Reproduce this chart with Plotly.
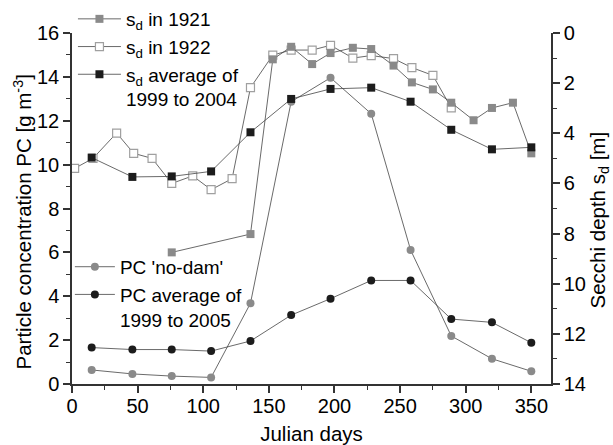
import plotly.graph_objects as go

# ---- data ----
days_pc = [15, 46, 76, 106, 136, 167, 197, 228, 258, 289, 320, 350]
pc_nodam = [0.64, 0.46, 0.36, 0.30, 3.68, 12.87, 13.96, 12.32, 6.11, 2.19, 1.15, 0.58]
pc_avg = [1.66, 1.57, 1.57, 1.50, 1.96, 3.14, 3.89, 4.72, 4.72, 2.96, 2.81, 1.88]

days_1921 = [76, 136, 153, 167, 183, 197, 214, 228, 245, 259, 275, 289, 306, 320, 336, 350]
sd_1921 = [8.75, 8.02, 1.05, 0.55, 1.24, 0.80, 0.59, 0.64, 1.30, 1.97, 2.25, 2.78, 3.48, 2.99, 2.78, 4.80]

days_1922 = [2, 16, 34, 47, 61, 76, 92, 106, 122, 136, 153, 167, 183, 197, 214, 228, 245, 259, 275, 289]
sd_1922 = [5.40, 5.00, 3.99, 4.80, 5.00, 6.00, 5.70, 6.25, 5.81, 2.18, 0.88, 0.68, 0.68, 0.49, 1.00, 0.90, 1.02, 1.38, 1.69, 2.99]

days_sd_avg = [15, 46, 76, 106, 136, 167, 197, 228, 258, 289, 320, 350]
sd_avg = [4.97, 5.74, 5.72, 5.52, 3.96, 2.63, 2.23, 2.18, 2.74, 3.86, 4.64, 4.56]

left_title = "Particle concentration PC [g m<sup>-3</sup>]"
right_title = "Secchi depth s<sub>d</sub> [m]"

FONT = "Liberation Sans, Arial, sans-serif"
LINE = dict(color="#444444", width=0.8)
GRAY = "#8a8a8a"
BLACK = "#1c1c1c"

fig = go.Figure()

# PC series (left axis)
fig.add_trace(go.Scatter(x=days_pc, y=pc_nodam, mode="lines+markers", name="PC 'no-dam'",
                         line=LINE, marker=dict(symbol="circle", size=8, color=GRAY),
                         legend="legend2", legendrank=1))
fig.add_trace(go.Scatter(x=days_pc, y=pc_avg, mode="lines+markers",
                         name="PC average of<br>1999 to 2005",
                         line=LINE, marker=dict(symbol="circle", size=8, color=BLACK),
                         legend="legend2", legendrank=2))

# Secchi series (right axis)
fig.add_trace(go.Scatter(x=days_1922, y=sd_1922, mode="lines+markers", name="s<sub>d</sub> in 1922",
                         line=LINE, yaxis="y2",
                         marker=dict(symbol="square", size=8, color="white",
                                     line=dict(color="#a0a0a0", width=1.2)),
                         legend="legend", legendrank=2))
fig.add_trace(go.Scatter(x=days_1921, y=sd_1921, mode="lines+markers", name="s<sub>d</sub> in 1921",
                         line=LINE, yaxis="y2",
                         marker=dict(symbol="square", size=8, color=GRAY),
                         legend="legend", legendrank=1))
fig.add_trace(go.Scatter(x=days_sd_avg, y=sd_avg, mode="lines+markers",
                         name="s<sub>d</sub> average of<br>1999 to 2004",
                         line=LINE, yaxis="y2",
                         marker=dict(symbol="square", size=8, color=BLACK),
                         legend="legend", legendrank=3))

axis_common = dict(showline=True, linecolor="#333333", linewidth=1.5, ticks="outside",
                   ticklen=7, tickwidth=1.5, tickcolor="#333333", showgrid=False, zeroline=False,
                   automargin=True,
                   tickfont=dict(size=20, color="black", family=FONT))

TITLE_FONT = dict(size=20.5, color="black", family=FONT)

fig.update_layout(
    width=613, height=445,
    margin=dict(l=72, r=62, t=33, b=61, pad=0, autoexpand=False),
    paper_bgcolor="white", plot_bgcolor="white",
    font=dict(family=FONT, size=19, color="black"),
    xaxis=dict(range=[0, 365], dtick=50, tick0=0, ticklabelstandoff=-4,
               minor=dict(ticks="outside", ticklen=4, dtick=25, tickcolor="#333333", tickwidth=1.2),
               title=dict(text="Julian days", font=TITLE_FONT, standoff=25),
               **axis_common),
    yaxis=dict(range=[0, 16], dtick=2, tick0=0,
               minor=dict(ticks="outside", ticklen=4, dtick=1, tickcolor="#333333", tickwidth=1.2),
               **axis_common),
    yaxis2=dict(range=[14, 0], dtick=2, tick0=0, overlaying="y", side="right", anchor="x",
                minor=dict(ticks="outside", ticklen=4, dtick=1, tickcolor="#333333", tickwidth=1.2),
                **axis_common),
    legend=dict(xref="container", yref="container", x=0.119, y=1.0, xanchor="left", yanchor="top",
                bgcolor="rgba(0,0,0,0)",
                font=dict(size=19), valign="top", tracegroupgap=0, itemwidth=43),
    legend2=dict(xref="container", yref="container", x=0.114, y=0.443, xanchor="left", yanchor="top",
                 bgcolor="rgba(0,0,0,0)",
                 font=dict(size=19), valign="top", tracegroupgap=0, itemwidth=40),
    showlegend=True,
    annotations=[
        dict(text=left_title, xref="paper", yref="paper", x=0, y=0.5,
             xshift=-50, yshift=-14, xanchor="center", yanchor="middle", textangle=-90,
             showarrow=False, font=TITLE_FONT),
        dict(text=right_title, xref="paper", yref="paper", x=1, y=0.5,
             xshift=47, yshift=-12, xanchor="center", yanchor="middle", textangle=-90,
             showarrow=False, font=TITLE_FONT),
    ],
)

fig.write_html("out.html")
